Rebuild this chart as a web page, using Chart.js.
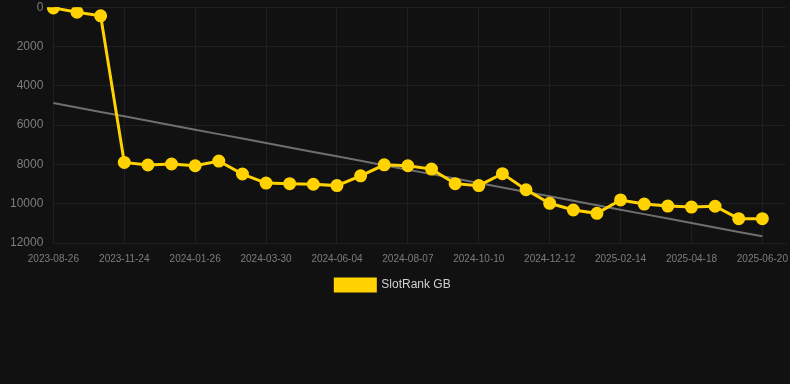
<!DOCTYPE html>
<html>
<head>
<meta charset="utf-8">
<script src="https://cdn.jsdelivr.net/npm/chart.js@4"></script>
<style>
  html, body { margin: 0; padding: 0; background: #111111; }
  #wrap { width: 790px; height: 301px; }
</style>
</head>
<body>
<div id="wrap"><canvas id="chart"></canvas></div>
<script>
// Dates on the x axis (last one left blank, as in the original)
var dates = [
  '2023-08-26', '2023-09-25', '2023-10-25', '2023-11-24', '2023-12-15', '2024-01-05',
  '2024-01-26', '2024-02-16', '2024-03-08', '2024-03-30', '2024-04-21', '2024-05-13',
  '2024-06-04', '2024-06-25', '2024-07-16', '2024-08-07', '2024-08-28', '2024-09-18',
  '2024-10-10', '2024-10-31', '2024-11-21', '2024-12-12', '2025-01-02', '2025-01-23',
  '2025-02-14', '2025-03-07', '2025-03-28', '2025-04-18', '2025-05-09', '2025-05-30',
  '2025-06-20', ''
];
// SlotRank GB values
var rankGB = [
  35, 255, 440, 7900, 8030, 7980, 8070, 7830, 8490, 8950, 8980, 9010,
  9080, 8580, 8020, 8070, 8240, 8980, 9080, 8470, 9290, 9980, 10320, 10490,
  9810, 10020, 10120, 10170, 10130, 10760, 10760
];
var yTicks = [0, 2000, 4000, 6000, 8000, 10000, 12000];

// Linear trend over the rank values
var n = rankGB.length, sx = 0, sy = 0, sxy = 0, sxx = 0;
for (var k = 0; k < n; k++) {
  sx += k; sy += rankGB[k]; sxy += k * rankGB[k]; sxx += k * k;
}
var slope = (n * sxy - sx * sy) / (n * sxx - sx * sx);
var icpt = (sy - slope * sx) / n;
var trend = [];
for (var k = 0; k < n; k++) trend.push(icpt + slope * k);

var ctx = document.getElementById('chart').getContext('2d');
var chart = new Chart(ctx, {
  type: 'line',
  data: {
    labels: dates,
    datasets: [{
      label: 'SlotRank GB',
      data: rankGB,
      borderColor: '#ffd200',
      backgroundColor: '#ffd200',
      borderWidth: 3,
      pointRadius: 5,
      pointHoverRadius: 6,
      pointBackgroundColor: '#ffd200',
      pointBorderColor: '#ffd200',
      tension: 0,
      fill: false
    }, {
      label: 'trend',
      data: trend,
      borderColor: '#6f6f6f',
      borderWidth: 2,
      pointRadius: 0,
      fill: false
    }]
  },
  options: {
    responsive: true,
    maintainAspectRatio: false,
    animation: false,
    layout: { autoPadding: false, padding: { left: 0, right: 4, top: 0, bottom: 0 } },
    scales: {
      x: {
        grid: { color: '#1f1f1f', drawTicks: true, tickLength: 10, tickColor: 'rgba(0,0,0,0)' },
        border: { color: '#1f1f1f' },
        ticks: {
          color: '#7d7d7d',
          font: { size: 10, family: 'Liberation Sans, Arial, sans-serif' },
          maxRotation: 0,
          autoSkip: true,
          padding: 0
        }
      },
      y: {
        reverse: true,
        min: 0,
        max: 12000,
        afterBuildTicks: function(axis) {
          axis.ticks = yTicks.map(function(v) { return { value: v }; });
        },
        afterFit: function(axis) {
          axis.width += 10;
        },
        grid: { color: '#1f1f1f', drawTicks: true, tickLength: 10, tickColor: 'rgba(0,0,0,0)' },
        border: { color: '#1f1f1f' },
        ticks: {
          color: '#7d7d7d',
          font: { size: 12, family: 'Liberation Sans, Arial, sans-serif' },
          padding: 0,
          callback: function(v) { return String(v); }
        }
      }
    },
    plugins: {
      legend: {
        position: 'bottom',
        labels: {
          color: '#d0d0d0',
          font: { size: 12, family: 'Liberation Sans, Arial, sans-serif' },
          boxWidth: 40,
          boxHeight: 12,
          padding: 14,
          filter: function(item) { return item.text !== 'trend'; }
        }
      },
      tooltip: { enabled: false }
    }
  }
});
</script>
</body>
</html>
